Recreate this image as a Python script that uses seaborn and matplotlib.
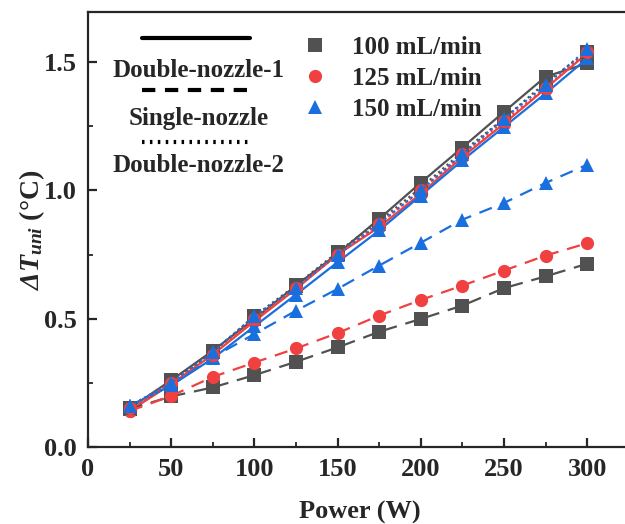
import matplotlib
matplotlib.use("Agg")
import matplotlib.pyplot as plt
from matplotlib.lines import Line2D
from matplotlib.ticker import MultipleLocator, FormatStrFormatter
import pandas as pd
import seaborn as sns

# Heating power (W)
power = [25, 50, 75, 100, 125, 150, 175, 200, 225, 250, 275, 300]

flow_labels = ["100 mL/min", "125 mL/min", "150 mL/min"]
config_labels = ["Double-nozzle-1", "Single-nozzle", "Double-nozzle-2"]

# Temperature non-uniformity (°C), Double-nozzle-1
dn1_100 = [0.15, 0.26, 0.375, 0.499, 0.629, 0.753, 0.889, 1.03, 1.167, 1.306, 1.443, 1.495]
dn1_125 = [0.14, 0.245, 0.36, 0.49, 0.616, 0.75, 0.857, 0.987, 1.13, 1.26, 1.397, 1.534]
dn1_150 = [0.16, 0.24, 0.345, 0.47, 0.594, 0.72, 0.844, 0.98, 1.117, 1.247, 1.378, 1.514]

# Single-nozzle
sn_100 = [0.148, 0.197, 0.232, 0.28, 0.332, 0.388, 0.449, 0.499, 0.551, 0.619, 0.665, 0.714]
sn_125 = [0.14, 0.199, 0.273, 0.329, 0.384, 0.444, 0.512, 0.573, 0.629, 0.6875, 0.746, 0.794]
sn_150 = [0.16, 0.24, 0.35, 0.44, 0.531, 0.616, 0.707, 0.796, 0.886, 0.951, 1.029, 1.10]

# Double-nozzle-2
dn2_100 = [0.15, 0.25, 0.37, 0.51, 0.63, 0.76, 0.88, 1.01, 1.15, 1.28, 1.42, 1.54]
dn2_125 = [0.15, 0.25, 0.36, 0.50, 0.62, 0.75, 0.87, 1.00, 1.14, 1.27, 1.40, 1.54]
dn2_150 = [0.16, 0.25, 0.37, 0.51, 0.62, 0.75, 0.87, 1.00, 1.14, 1.28, 1.41, 1.55]

series = {
    "Double-nozzle-1": [dn1_100, dn1_125, dn1_150],
    "Single-nozzle": [sn_100, sn_125, sn_150],
    "Double-nozzle-2": [dn2_100, dn2_125, dn2_150],
}

rows = []
for cfg, groups in series.items():
    for flow, vals in zip(flow_labels, groups):
        for p, v in zip(power, vals):
            rows.append({"config": cfg, "flow": flow, "power": p, "dT": v})
df = pd.DataFrame(rows)

colors = ["#515151", "#F14040", "#1A6FDF"]
palette = dict(zip(flow_labels, colors))
marker_map = dict(zip(flow_labels, ["s", "o", "^"]))
line_dash = {"Double-nozzle-1": "", "Single-nozzle": (6, 4), "Double-nozzle-2": (1, 1.5)}

sns.set_theme(style="ticks")
plt.rcParams.update({
    "font.family": ["Liberation Serif", "DejaVu Serif"],
    "font.weight": "bold",
    "axes.labelweight": "bold",
    "mathtext.fontset": "custom",
    # the math part of the y label is entirely bold italic (including the Greek capital)
    "mathtext.rm": "Liberation Serif:italic:bold",
    "mathtext.it": "Liberation Serif:italic:bold",
    "mathtext.bf": "Liberation Serif:bold",
    "axes.linewidth": 1.6,
    "xtick.direction": "in",
    "ytick.direction": "in",
    "xtick.major.width": 1.6,
    "ytick.major.width": 1.6,
    "xtick.minor.width": 1.3,
    "ytick.minor.width": 1.3,
    "xtick.major.size": 6.5,
    "ytick.major.size": 6.5,
    "xtick.minor.size": 3.5,
    "ytick.minor.size": 3.5,
})

fig = plt.figure(figsize=(6.25, 5.24), dpi=100)
ax = fig.add_axes([0.1408, 0.147, 0.870, 0.83])

for cfg in config_labels:
    sub = df[df["config"] == cfg]
    sns.lineplot(
        data=sub, x="power", y="dT", hue="flow", style="flow",
        hue_order=flow_labels, style_order=flow_labels,
        palette=palette, markers=marker_map,
        dashes={f: line_dash[cfg] for f in flow_labels},
        markersize=9.5, markeredgewidth=0, linewidth=1.6,
        legend=False, ax=ax,
    )

ax.set_xlim(0, 326.8)
ax.set_ylim(0, 1.695)
ax.xaxis.set_major_locator(MultipleLocator(50))
ax.xaxis.set_minor_locator(MultipleLocator(25))
ax.yaxis.set_major_locator(MultipleLocator(0.5))
ax.yaxis.set_minor_locator(MultipleLocator(0.25))
ax.tick_params(axis="both", which="major", labelsize=19, pad=8)
for lab in ax.get_xticklabels() + ax.get_yticklabels():
    lab.set_fontweight("bold")
ax.yaxis.set_major_formatter(FormatStrFormatter("%.1f"))

ax.set_xlabel("Power (W)", fontsize=19, fontweight="bold", labelpad=14)
ax.set_ylabel(r"$ΔT_{uni}$ (°C)", fontsize=20, fontweight="bold", labelpad=-2)

# Line-style key: sample line above each configuration name
key_style = [("-", None), ("--", (3.2, 2.3)), (":", (0.6, 1.3))]
line_y = [0.940, 0.8207, 0.7011]
text_y = [0.8667, 0.7563, 0.6483]
for (ls, dsh), ly, ty, name in zip(key_style, line_y, text_y, config_labels):
    ln = Line2D([0.100, 0.298], [ly, ly], transform=ax.transAxes,
                color="black", linewidth=3, linestyle=ls)
    if dsh is not None:
        ln.set_dashes(dsh)
    ax.add_line(ln)
    ax.text(0.2036, ty, name, transform=ax.transAxes, ha="center",
            va="center", fontsize=18, fontweight="bold")

# Marker key for coolant flow rates
handles = [Line2D([], [], linestyle="none", marker=m, color=c, markersize=9.5,
                  markeredgewidth=0)
           for m, c in zip(["s", "o", "^"], colors)]
ax.legend(handles, flow_labels, loc="upper left", bbox_to_anchor=(0.362, 0.985),
          frameon=False, prop={"family": "Liberation Serif", "weight": "bold", "size": 18},
          handlelength=1.0, handletextpad=1.0, labelspacing=0.32, borderaxespad=0.3)

fig.savefig("out.png", dpi=100)
